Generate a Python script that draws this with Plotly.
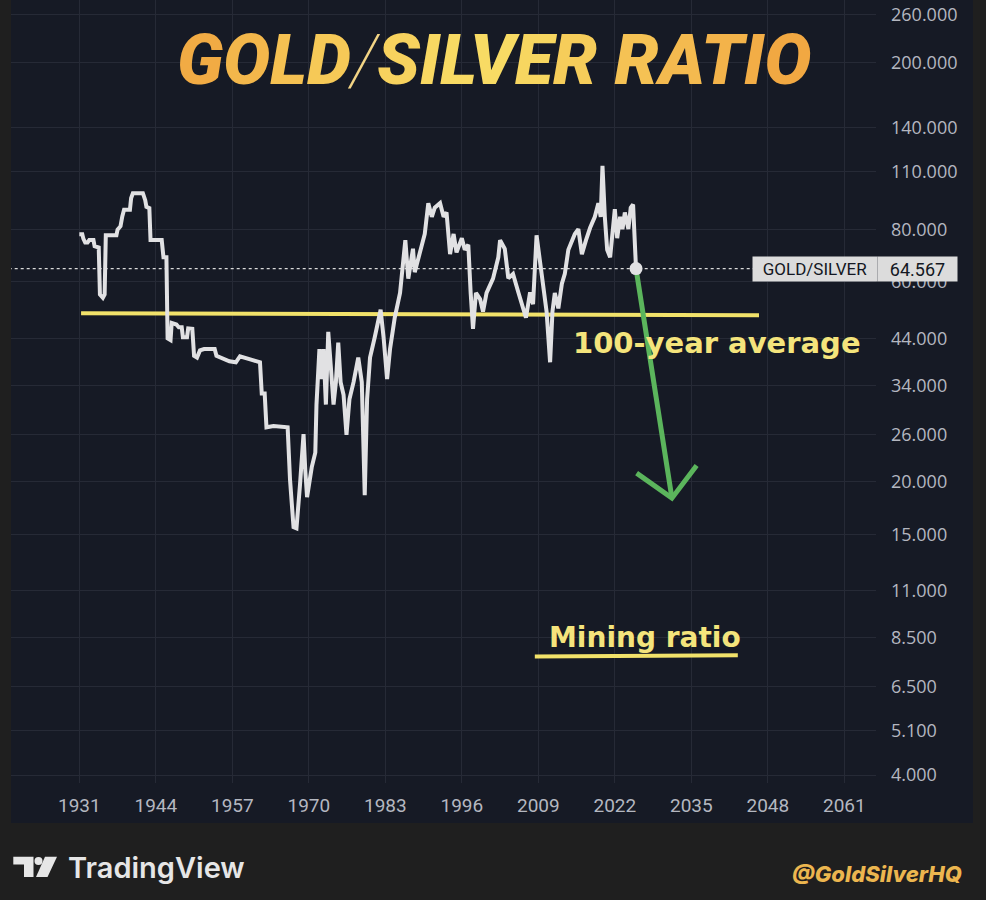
import numpy as np
import plotly.graph_objects as go

# ---------------- data ----------------
YEARS = [1931.0, 1931.5, 1931.7, 1932.0, 1932.4, 1932.7, 1933.4, 1933.6, 1934.3, 1934.5, 1935.0, 1935.3, 1935.5,
         1937.3, 1937.5, 1938.0, 1938.3, 1938.6, 1939.6, 1939.8, 1940.1, 1941.8, 1942.2, 1942.4, 1942.9, 1943.1,
         1945.0, 1945.3, 1945.8, 1946.0, 1946.5, 1946.7, 1947.5, 1947.9, 1948.4, 1948.6, 1949.3, 1949.5, 1950.2,
         1950.5, 1951.0, 1951.5, 1952.2, 1954.0, 1954.3, 1955.5, 1956.5, 1957.6, 1958.3, 1960.6, 1961.7, 1962.0,
         1962.5, 1962.8, 1964.0, 1966.4, 1966.8, 1967.4, 1967.9, 1968.5, 1969.1, 1969.4, 1969.7, 1970.5, 1971.1,
         1971.3, 1971.8, 1972.2, 1972.5, 1972.9, 1973.3, 1973.7, 1974.2, 1974.6, 1975.0, 1975.4, 1975.9, 1976.4,
         1976.9, 1977.6, 1978.4, 1979.0, 1979.5, 1979.9, 1980.4, 1981.2, 1981.8, 1982.2, 1982.7, 1983.3, 1983.8,
         1984.6, 1985.5, 1986.4, 1986.9, 1987.7, 1988.0, 1988.9, 1989.7, 1990.3, 1990.9, 1991.4, 1992.3, 1992.9,
         1993.4, 1994.0, 1994.6, 1995.1, 1996.0, 1996.5, 1997.1, 1997.5, 1997.9, 1998.4, 1999.1, 1999.6, 2000.2,
         2001.3, 2002.2, 2002.5, 2003.3, 2003.9, 2004.7, 2005.6, 2006.2, 2006.9, 2007.6, 2008.1, 2008.7, 2009.2,
         2009.6, 2010.1, 2010.4, 2011.0, 2011.4, 2011.8, 2012.4, 2013.0, 2013.5, 2014.1, 2014.7, 2015.2, 2015.8,
         2016.4, 2017.1, 2017.8, 2018.6, 2019.2, 2019.6, 2019.9, 2020.3, 2020.7, 2021.2, 2021.6, 2022.0, 2022.4,
         2022.9, 2023.3, 2023.7, 2024.3, 2024.7, 2025.1, 2025.4, 2025.6]
RATIO = [78.0, 78.0, 76.0, 74.5, 74.5, 75.5, 75.5, 73.0, 72.5, 56.0, 55.0, 56.0, 77.5,
         77.5, 80.0, 81.5, 86.0, 89.2, 89.2, 95.0, 97.7, 97.7, 94.0, 90.6, 90.0, 75.5,
         75.5, 68.7, 68.7, 44.0, 43.6, 47.9, 47.5, 46.8, 46.8, 44.3, 44.3, 46.5, 46.4,
         40.0, 39.6, 41.2, 41.5, 41.5, 40.0, 39.3, 38.8, 38.6, 39.9, 39.0, 38.6, 32.5,
         32.5, 27.0, 27.2, 27.0, 20.3, 15.6, 15.5, 19.7, 26.0, 21.3, 18.4, 21.7, 23.5,
         30.6, 41.5, 35.2, 41.5, 30.6, 45.6, 38.3, 30.6, 34.6, 43.0, 34.6, 32.3, 25.9,
         31.5, 34.6, 39.6, 34.6, 18.6, 31.5, 39.6, 44.3, 49.3, 51.5, 44.3, 35.2, 41.5,
         49.3, 56.5, 75.5, 61.1, 72.0, 63.3, 71.6, 78.1, 92.5, 85.8, 90.2, 92.5, 85.8,
         87.9, 69.9, 78.1, 70.6, 76.3, 71.6, 73.6, 56.5, 46.4, 56.5, 54.6, 51.0, 56.5,
         61.1, 68.7, 75.5, 72.0, 61.2, 62.7, 56.7, 53.1, 49.3, 56.7, 53.1, 77.5, 68.7,
         63.3, 56.5, 51.0, 38.6, 51.0, 56.5, 51.9, 59.4, 62.7, 71.6, 75.5, 78.1, 80.2,
         69.9, 75.5, 80.8, 85.8, 92.5, 85.8, 113.5, 85.8, 71.6, 68.7, 80.2, 89.5, 76.3,
         85.8, 80.2, 87.9, 80.2, 90.2, 91.8, 78.1, 64.567]
LAST_LABEL = "GOLD/SILVER"

AVG_YEARS = [1931.3, 2046.5]
AVG_VALUES = [50.5, 50.0]

ARROW_X = [2025.6, 2031.7, None, 2025.7, 2031.7, 2035.9]
ARROW_Y = [64.567, 18.3, None, 21.0, 18.3, 21.9]

MINING_YEARS = [2008.4, 2042.9]
MINING_VALUES = [7.67, 7.72]

X_TICKS = [1931, 1944, 1957, 1970, 1983, 1996, 2009, 2022, 2035, 2048, 2061]
Y_TICKS = [4.0, 5.1, 6.5, 8.5, 11, 15, 20, 26, 34, 44, 60, 80, 110, 140, 200, 260]
Y_TICK_TEXT = ["4.000", "5.100", "6.500", "8.500", "11.000", "15.000", "20.000", "26.000", "34.000",
               "44.000", "60.000", "80.000", "110.000", "140.000", "200.000", "260.000"]

# ---------------- layout geometry (pixels) ----------------
W, H = 986, 900
PL, PR, PT, PB = 11, 876, 0, 783


def px(xp):
    return (xp - PL) / (PR - PL)


def py(yp):
    return (PB - yp) / (PB - PT)


PANEL = "#161a25"
FOOT = "#1f1f1f"
GRID = "#262a36"
TICKC = "#b4b7c0"

fig = go.Figure()

last_val = RATIO[-1]
last_year = YEARS[-1]

# dotted price line
fig.add_trace(go.Scatter(x=[1919.0, 2045.8], y=[last_val, last_val], mode="lines",
                         line=dict(color="#dadada", width=1.2, dash="dot"), hoverinfo="skip"))
# 100-year average
fig.add_trace(go.Scatter(x=AVG_YEARS, y=AVG_VALUES, mode="lines",
                         line=dict(color="#f2e26a", width=4), hoverinfo="skip"))
# mining ratio underline
fig.add_trace(go.Scatter(x=MINING_YEARS, y=MINING_VALUES, mode="lines",
                         line=dict(color="#f2e26a", width=4), hoverinfo="skip"))
# ratio series
fig.add_trace(go.Scatter(x=YEARS, y=RATIO, mode="lines",
                         line=dict(color="#e1e1e3", width=4), hoverinfo="skip"))
# green arrow
fig.add_trace(go.Scatter(x=ARROW_X, y=ARROW_Y, mode="lines",
                         line=dict(color="#5bb55c", width=5), hoverinfo="skip"))
# last point
fig.add_trace(go.Scatter(x=[last_year], y=[last_val], mode="markers",
                         marker=dict(color="#e1e1e3", size=13), hoverinfo="skip"))

shapes = [
    dict(type="rect", xref="paper", yref="paper", x0=px(11), x1=px(973), y0=py(0), y1=py(823),
         fillcolor=PANEL, line=dict(width=0), layer="below"),
    # TradingView logo
    dict(type="path", xref="paper", yref="paper", layer="above",
         path=f"M {px(13.3)} {py(856.7)} L {px(33.5)} {py(856.7)} L {px(33.5)} {py(877)} L {px(24)} {py(877)} "
              f"L {px(24)} {py(864.5)} L {px(13.3)} {py(864.5)} Z",
         fillcolor="#e6e6e6", line=dict(width=0)),
    dict(type="circle", xref="paper", yref="paper", layer="above",
         x0=px(34.5), x1=px(42.5), y0=py(865), y1=py(857),
         fillcolor="#e6e6e6", line=dict(width=0)),
    dict(type="path", xref="paper", yref="paper", layer="above",
         path=f"M {px(45)} {py(856.7)} L {px(57)} {py(856.7)} L {px(47.5)} {py(877)} L {px(36)} {py(877)} Z",
         fillcolor="#e6e6e6", line=dict(width=0)),
]

title_colors = ["#f1ab44", "#f3b74b", "#f5c152", "#f6c957", None, "#f7d25e", "#f8d862", "#f8da63",
                "#f8db64", "#f7d660", "#f6cd5a", None, "#f5c254", "#f4ba4f", "#f3b34a", "#f2ad46", "#f1a842"]
title_chars = list("GOLD/SILVER RATIO")
parts = []
for ch, col in zip(title_chars, title_colors):
    if ch == "/":
        parts.append('<span style="color:#f3d585;font-weight:200">/</span>')
    elif ch == " ":
        parts.append(" ")
    else:
        parts.append(f'<span style="color:{col}">{ch}</span>')
title_html = "".join(parts)

annotations = [
    dict(text=title_html, xref="paper", yref="paper", x=px(494), y=py(60), showarrow=False,
         xanchor="center", yanchor="middle",
         font=dict(family="Roboto", size=70, weight=900, style="italic", color="#f5c052")),
    dict(text="100-year average", xref="paper", yref="paper", x=px(717), y=py(343), showarrow=False,
         xanchor="center", yanchor="middle",
         font=dict(family="DejaVu Sans", size=29, weight=700, color="#f4e47c")),
    dict(text="Mining ratio", xref="paper", yref="paper", x=px(645), y=py(637), showarrow=False,
         xanchor="center", yanchor="middle",
         font=dict(family="DejaVu Sans", size=28, weight=700, color="#f4e47c")),
    dict(text=LAST_LABEL, xref="paper", yref="y", x=px(814.5), y=np.log10(last_val), showarrow=False,
         xanchor="center", yanchor="middle", bgcolor="#dcdcdc", width=120, height=20, borderpad=2,
         font=dict(family="Roboto", size=17, color="#131722")),
    dict(text=f"{last_val:.3f}", xref="paper", yref="y", x=px(917.5), y=np.log10(last_val), showarrow=False,
         xanchor="center", yanchor="middle", bgcolor="#dcdcdc", width=75, height=20, borderpad=2,
         font=dict(family="Roboto", size=18, color="#131722")),
    dict(text="TradingView", xref="paper", yref="paper", x=px(66), y=py(867), showarrow=False,
         xanchor="left", yanchor="middle",
         font=dict(family="Inter", size=29, weight=600, color="#e6e6e6")),
    dict(text="@GoldSilverHQ", xref="paper", yref="paper", x=px(877), y=py(874), showarrow=False,
         xanchor="center", yanchor="middle",
         font=dict(family="Inter", size=22, weight=800, style="italic", color="#ecb64f")),
]

fig.update_layout(
    width=W, height=H,
    margin=dict(l=PL, r=W - PR, t=PT, b=H - PB, pad=0),
    paper_bgcolor=FOOT, plot_bgcolor=PANEL,
    showlegend=False,
    shapes=shapes, annotations=annotations,
    xaxis=dict(range=[1919.39, 2066.38], tickvals=X_TICKS, ticktext=[str(t) for t in X_TICKS],
               showgrid=True, gridcolor=GRID, gridwidth=1, zeroline=False, showline=False,
               ticks="", ticklabelstandoff=9,
               tickfont=dict(family="Roboto", size=19, color=TICKC)),
    yaxis=dict(type="log", range=[np.log10(3.828), np.log10(282.3)], side="right",
               tickvals=Y_TICKS, ticktext=Y_TICK_TEXT,
               showgrid=True, gridcolor=GRID, gridwidth=1, zeroline=False, showline=False,
               ticks="", ticklabelstandoff=14,
               tickfont=dict(family="Open Sans", size=18, color=TICKC)),
)

fig.write_html("out.html", config={"displayModeBar": False},
               post_script="document.body.style.margin='0';document.body.style.background='#1f1f1f';")
